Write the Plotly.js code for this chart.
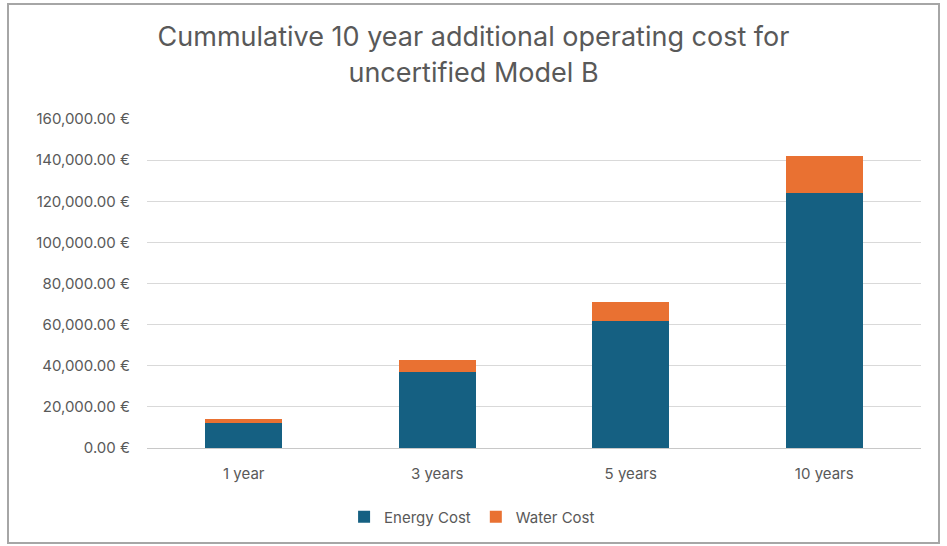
<!DOCTYPE html>
<html>
<head>
<meta charset="utf-8">
<script src="https://cdn.plot.ly/plotly-3.0.1.min.js"></script>
<style>
html,body{margin:0;padding:0;background:#fff;}
#frame{position:absolute;left:7px;top:3px;width:933px;height:541px;border:2px solid #a6a6a6;box-sizing:border-box;}
#chart{position:absolute;left:0;top:0;width:947px;height:546px;}
</style>
</head>
<body>
<div id="chart"></div>
<div id="frame"></div>
<script>
var categories = ["1 year", "3 years", "5 years", "10 years"];
var energyCost = [12400, 37200, 62000, 124000];
var waterCost = [1800, 5400, 9000, 18000];
var yTickVals = [0, 20000, 40000, 60000, 80000, 100000, 120000, 140000, 160000];
var yTickText = ["0.00 €", "20,000.00 €", "40,000.00 €", "60,000.00 €", "80,000.00 €", "100,000.00 €", "120,000.00 €", "140,000.00 €", "160,000.00 €"];

var font = "Inter, 'Open Sans', sans-serif";
var traces = [
  {type: "bar", name: "Energy Cost", x: categories, y: energyCost, marker: {color: "#156082"}},
  {type: "bar", name: "Water Cost", x: categories, y: waterCost, marker: {color: "#E97132"}}
];
var layout = {
  width: 947, height: 546,
  barmode: "stack", bargap: 0.6,
  paper_bgcolor: "#fff", plot_bgcolor: "#fff",
  margin: {l: 147, r: 26, t: 119, b: 98},
  font: {family: font, color: "#595959", size: 15},
  title: {text: "Cummulative 10 year additional operating cost for<br>uncertified Model B",
          font: {family: font, size: 27, color: "#595959"}, x: 0.5, xanchor: "center", y: 0.915, yanchor: "middle"},
  xaxis: {showgrid: false, showline: true, linecolor: "#c8c8c8", linewidth: 1, ticks: "", ticklabelstandoff: 12, tickfont: {size: 15, color: "#595959"}},
  yaxis: {range: [0, 160000], tickvals: yTickVals, ticktext: yTickText, showgrid: true, gridcolor: "#d9d9d9", zeroline: false,
          showline: false, ticks: "", ticklabelstandoff: 16, tickfont: {size: 15, color: "#595959"}},
  legend: {orientation: "h", xref: "paper", x: 0.42, xanchor: "center", yref: "container", y: 0.053, yanchor: "middle", font: {size: 15, color: "#595959"}, traceorder: "normal", itemwidth: 30},
  showlegend: true
};
Plotly.newPlot("chart", traces, layout, {displayModeBar: false, staticPlot: true});
</script>
</body>
</html>
